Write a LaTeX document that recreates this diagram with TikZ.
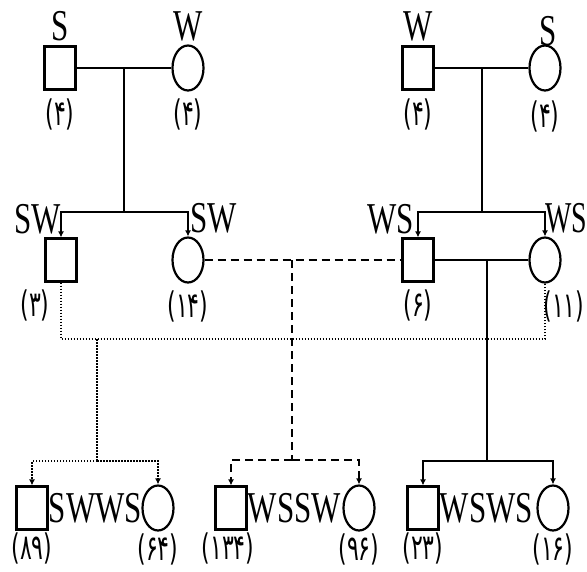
\documentclass[tikz,border=0pt]{standalone}
\usepackage{fontspec}
\setmainfont{Liberation Serif}
\newfontfamily\fanum{DejaVu Sans}
\usetikzlibrary{positioning,shapes.geometric,arrows.meta}

\begin{document}
\begin{tikzpicture}[
    x=1pt, y=-1pt,
    male/.style={rectangle, draw, line width=2.2pt, minimum width=31pt, minimum height=43pt, inner sep=0pt},
    female/.style={ellipse, draw, line width=2.2pt, minimum width=31pt, minimum height=45pt, inner sep=0pt},
    genolbl/.style={font=\fontsize{31}{33}\selectfont, inner sep=0pt, yscale=1.42},
    numlbl/.style={font=\fanum\fontsize{22}{24}\selectfont, inner sep=0pt, yscale=1.6},
    solidline/.style={line width=2.2pt},
    crossline/.style={line width=2.2pt, dash pattern=on 8pt off 5pt},
    selfline/.style={line width=2pt, dash pattern=on 1.5pt off 1.5pt},
    tip/.style={-{Latex[length=6pt,width=6pt]}}
]
\useasboundingbox (0,0) rectangle (587,571);

% first generation
\node[male] (s1) at (60,68) {};
\node[female] (w1) at (188,68) {};
\node[male] (w2) at (418,68) {};
\node[female] (s2) at (545,68) {};

% second generation
\node[male] (sw1) at (61,260) {};
\node[female] (sw2) at (188,260) {};
\node[male] (ws1) at (418,260) {};
\node[female] (ws2) at (545,260) {};

% third generation
\node[male] (swws1) at (32,508) {};
\node[female] (swws2) at (158,508) {};
\node[male] (wssw1) at (231,508) {};
\node[female] (wssw2) at (359,508) {};
\node[male] (wsws1) at (423,508) {};
\node[female] (wsws2) at (553,508) {};

% genotypes
\node[genolbl, above=4pt of s1] (g-s1) {S};
\node[genolbl, above=3pt of w1] (g-w1) {W};
\node[genolbl, above=4pt of w2] (g-w2) {W};
\node[genolbl, above=-2pt of s2, xshift=3pt] (g-s2) {S};
\node[genolbl, above left=3pt and 0pt of sw1.north] (g-sw1) {SW};
\node[genolbl, above right=3pt and 2pt of sw2.north] (g-sw2) {SW};
\node[genolbl, above left=3pt and 4pt of ws1.north] (g-ws1) {WS};
\node[genolbl, above right=3pt and 0pt of ws2.north, xscale=0.9] (g-ws2) {WS};
\node[genolbl, right=0pt of swws1] (g-swws) {SWWS};
\node[genolbl, right=0pt of wssw1] (g-wssw) {WSSW};
\node[genolbl, right=0pt of wsws1] (g-wsws) {WSWS};

% counts
\node[numlbl, below=8pt of s1] (n-s1) {(۴)};
\node[numlbl, below=7pt of w1] (n-w1) {(۴)};
\node[numlbl, below=8pt of w2] (n-w2) {(۴)};
\node[numlbl, below=9pt of s2] (n-s2) {(۴)};
\node[numlbl, below=7pt of sw1, xshift=-26pt] (n-sw1) {(۳)};
\node[numlbl, below=7pt of sw2] (n-sw2) {(۱۴)};
\node[numlbl, below=7pt of ws1] (n-ws1) {(۶)};
\node[numlbl, below=7pt of ws2, xshift=19pt] (n-ws2) {(۱۱)};
\node[numlbl, below=2pt of swws1] (n-swws1) {(۸۹)};
\node[numlbl, below=2pt of swws2] (n-swws2) {(۶۴)};
\node[numlbl, below=2pt of wssw1, xshift=-3pt] (n-wssw1) {(۱۳۴)};
\node[numlbl, below=2pt of wssw2] (n-wssw2) {(۹۶)};
\node[numlbl, below=2pt of wsws1] (n-wsws1) {(۲۳)};
\node[numlbl, below=2pt of wsws2] (n-wsws2) {(۱۶)};

% junctions
\coordinate (m1) at (124,68);
\coordinate (b1) at (124,212);
\coordinate (m2) at (482,68);
\coordinate (b2) at (482,212);
\coordinate (m3) at (97,339);
\coordinate (b3) at (97,461);
\coordinate (m4) at (292,260);
\coordinate (b4) at (292,460);
\coordinate (m5) at (487,260);
\coordinate (b5) at (487,461);

% matings and offspring
\draw[solidline] (s1) -- (w1);
\draw[solidline] (m1) -- (b1);
\draw[solidline, tip] (b1) -| (sw1);
\draw[solidline, tip] (b1) -| (sw2);

\draw[solidline] (w2) -- (s2);
\draw[solidline] (m2) -- (b2);
\draw[solidline, tip] (b2) -| (ws1);
\draw[solidline, tip] (b2) -| (ws2);

\draw[selfline] (sw1) |- (m3) -| (ws2);
\draw[selfline] (m3) -- (b3);
\draw[selfline, tip] (b3) -| (swws1);
\draw[selfline, tip] (b3) -| (swws2);

\draw[crossline] (sw2) -- (ws1);
\draw[crossline] (m4) -- (b4);
\draw[crossline, tip] (b4) -| (wssw1);
\draw[crossline, tip] (b4) -| (wssw2);

\draw[solidline] (ws1) -- (ws2);
\draw[solidline] (m5) -- (b5);
\draw[solidline, tip] (b5) -| (wsws1);
\draw[solidline, tip] (b5) -| (wsws2);

\end{tikzpicture}
\end{document}
